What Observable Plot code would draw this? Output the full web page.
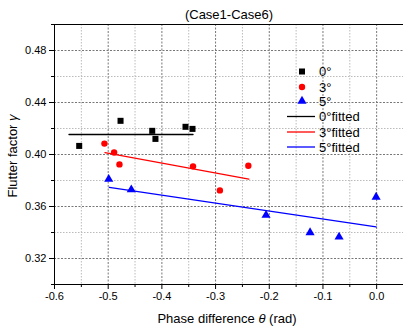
<!DOCTYPE html>
<html><head><meta charset="utf-8">
<script src="https://cdn.jsdelivr.net/npm/d3@7"></script>
<script src="https://cdn.jsdelivr.net/npm/@observablehq/plot@0.6"></script>
<style>body{margin:0;background:#fff;} svg{display:block;}</style>
</head><body><div id="chart"></div>
<script>
const title = "(Case1-Case6)";
const xMajor = [-0.6, -0.5, -0.4, -0.3, -0.2, -0.1, 0.0];
const xMinor = [-0.55, -0.45, -0.35, -0.25, -0.15, -0.05, 0.05];
const yMajor = [0.32, 0.36, 0.40, 0.44, 0.48];
const yMinor = [0.30, 0.34, 0.38, 0.42, 0.46, 0.50];

const x0 = [-0.554, -0.477, -0.418, -0.412, -0.356, -0.343];
const y0 = [0.4066, 0.4259, 0.4182, 0.4120, 0.4213, 0.4197];
const x3 = [-0.507, -0.489, -0.479, -0.342, -0.292, -0.239];
const y3 = [0.4084, 0.4015, 0.3924, 0.3909, 0.3724, 0.3914];
const x5 = [-0.499, -0.457, -0.206, -0.124, -0.070, -0.001];
const y5 = [0.3810, 0.3729, 0.3533, 0.3400, 0.3366, 0.3672];

const fit0x = [-0.573, -0.342], fit0y = [0.4154, 0.4154];
const fit3x = [-0.506, -0.238], fit3y = [0.4015, 0.3810];
const fit5x = [-0.498, -0.001], fit5y = [0.3747, 0.3443];

const legendLabels = ["0°", "3°", "5°", "0°fitted", "3°fitted", "5°fitted"];
const colors = ["#000000", "#ff0000", "#0000ff"];

const pts = (xs, ys) => xs.map((x, i) => ({x, y: ys[i]}));
const fmt = d => d.toFixed(1);
const fmtY = d => d.toFixed(2);

const svg = Plot.plot({
  width: 403, height: 329,
  marginLeft: 54, marginRight: 0, marginTop: 24, marginBottom: 45,
  style: {fontFamily: "Liberation Sans, Arial, sans-serif", fontSize: "11px", color: "#000", background: "#fff"},
  x: {domain: [-0.6, 0.05]},
  y: {domain: [0.30, 0.50]},
  marks: [
    Plot.gridX(xMinor, {stroke: "#bbb", strokeOpacity: 1, strokeDasharray: "1.5,1.5"}),
    Plot.gridY(yMinor, {stroke: "#bbb", strokeOpacity: 1, strokeDasharray: "1.5,1.5"}),
    Plot.gridX(xMajor, {stroke: "#777", strokeOpacity: 1, strokeDasharray: "2,1.5"}),
    Plot.gridY(yMajor, {stroke: "#777", strokeOpacity: 1, strokeDasharray: "2,1.5"}),
    Plot.axisX({ticks: xMajor, tickFormat: fmt, tickSize: 5, tickPadding: 3, label: null, fontSize: 11}),
    Plot.axisX({ticks: xMinor.filter(d => d < 0.05), tickFormat: () => "", tickSize: 3, label: null}),
    Plot.axisY({ticks: yMajor, tickFormat: fmtY, tickSize: 5, tickPadding: 3, label: null, fontSize: 11}),
    Plot.axisY({ticks: yMinor, tickFormat: () => "", tickSize: 3, label: null}),
    Plot.ruleX([-0.6], {stroke: "#000", strokeWidth: 1}),
    Plot.ruleY([0.30], {stroke: "#000", strokeWidth: 1}),
    Plot.ruleY([0.50], {stroke: "#000", strokeWidth: 1}),
    Plot.line(pts(fit0x, fit0y), {x: "x", y: "y", stroke: colors[0], strokeWidth: 1.3}),
    Plot.line(pts(fit3x, fit3y), {x: "x", y: "y", stroke: colors[1], strokeWidth: 1.3}),
    Plot.line(pts(fit5x, fit5y), {x: "x", y: "y", stroke: colors[2], strokeWidth: 1.3}),
    Plot.dot(pts(x0, y0), {x: "x", y: "y", symbol: "square", r: 3.4, fill: colors[0], stroke: "none"}),
    Plot.dot(pts(x3, y3), {x: "x", y: "y", symbol: "circle", r: 3.2, fill: colors[1], stroke: "none"}),
    Plot.dot(pts(x5, y5), {x: "x", y: "y", symbol: "triangle", r: 3.4, fill: colors[2], stroke: "none"})
  ]
});

const s = d3.select(svg);
const font = "Liberation Sans, Arial, sans-serif";
s.append("text").attr("x", 229).attr("y", 19).attr("text-anchor", "middle")
  .attr("font-family", font).attr("font-size", 13).attr("fill", "#000").text(title);

const xl = s.append("text").attr("x", 227).attr("y", 323).attr("text-anchor", "middle")
  .attr("font-family", font).attr("font-size", 13).attr("fill", "#000");
xl.append("tspan").text("Phase difference ");
xl.append("tspan").attr("font-style", "italic").text("θ");
xl.append("tspan").text(" (rad)");

const yl = s.append("text").attr("transform", "translate(17,156) rotate(-90)").attr("text-anchor", "middle")
  .attr("font-family", font).attr("font-size", 13).attr("fill", "#000");
yl.append("tspan").text("Flutter factor ");
yl.append("tspan").attr("font-style", "italic").text("γ");

// legend
const lg = s.append("g").attr("font-family", font).attr("font-size", 13).attr("fill", "#000")
  .attr("text-anchor", "start");
const rowY = [71.5, 87, 101, 116.5, 132, 147];
const syms = [d3.symbolSquare, d3.symbolCircle, d3.symbolTriangle];
const symR = [3.4, 3.2, 3.4];
for (let i = 0; i < 3; i++) {
  lg.append("path").attr("transform", `translate(302,${rowY[i]})`)
    .attr("d", d3.symbol(syms[i], Math.PI * symR[i] * symR[i])()).attr("fill", colors[i]);
  lg.append("text").attr("x", 319).attr("y", rowY[i]).attr("dy", "0.35em").attr("text-anchor", "start").text(legendLabels[i]);
}
for (let i = 0; i < 3; i++) {
  lg.append("line").attr("x1", 287).attr("x2", 315).attr("y1", rowY[i + 3]).attr("y2", rowY[i + 3])
    .attr("stroke", colors[i]).attr("stroke-width", 1.3);
  lg.append("text").attr("x", 319).attr("y", rowY[i + 3]).attr("dy", "0.35em").attr("text-anchor", "start").text(legendLabels[i + 3]);
}

document.getElementById("chart").append(svg);
</script>
</body></html>
